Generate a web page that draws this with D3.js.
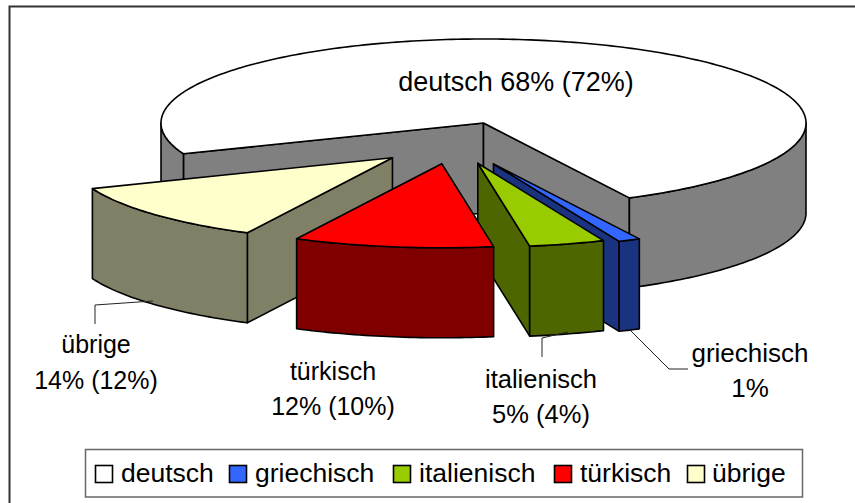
<!DOCTYPE html>
<html>
<head>
<meta charset="utf-8">
<script src="https://cdn.jsdelivr.net/npm/d3@7"></script>
<style>
html,body{margin:0;padding:0;background:#fff}
svg{display:block}
text{font-family:"Liberation Sans",Arial,sans-serif;fill:#000}
</style>
</head>
<body>
<svg id="c" width="855" height="503"></svg>
<script>
// ---- data ----
const categories = ["deutsch","griechisch","italienisch","türkisch","übrige"];
const sliceValues = [73.5,1.1,3.8,10,11.6];
const explosion = [0,1.1,1,1,1];
const topColors = ["#FFFFFF","#3366FF","#99CC00","#FF0000","#FFFFCC"];
const sideColors = ["#808080","#1A3380","#4D6600","#800000","#808066"];
const labelLines = [
  ["deutsch 68% (72%)"],
  ["griechisch","1%"],
  ["italienisch","5% (4%)"],
  ["türkisch","12% (10%)"],
  ["übrige","14% (12%)"]
];
const drawOrder = [0,4,1,2,3];

// ---- layout ----
const W=855,H=503, cx=483.5, cy=123, rx=322.5, ry=84, depth=90;
const labelAnchors = [
  {x:516,y:91,dy:0,fs:27},
  {x:750,y:362,dy:35,fs:26},
  {x:541,y:388,dy:35,fs:25.5},
  {x:333,y:380,dy:35,fs:25},
  {x:96,y:353,dy:36,fs:25}
];
const leaders = [null,
  [[629,329],[669,369],[688,369]],
  [[568,332],[542,338],[542,357]],
  null,
  [[153,301],[95,305],[95,324]]
];
const legendFS=26.5;
const legendSwatchX=[95,229,393,554,687];
const legendTextX=[121,255,419,580,712];

const svg=d3.select("#c");
const deg=Math.PI/180;
const pie=d3.pie().sort(null).value(d=>d)
  .startAngle(248.5*deg).endAngle((248.5+360)*deg);
const arcs=pie(sliceValues);
const line=d3.line();
const lx=d3.scaleLinear().domain([-1,1]).range([-rx,rx]);
const ly=d3.scaleLinear().domain([-1,1]).range([-ry,ry]);

function offset(i,a){
  // explosion in the picture plane
  const k=explosion[i];
  if(!k) return [cx,cy];
  return [cx+84*k*Math.sin(a)-29, cy-19*k*Math.cos(a)+22];
}
function arcPts(c,a0,a1,z){
  const n=Math.max(2,Math.ceil((a1-a0)/deg));
  return d3.range(n+1).map(k=>{
    const a=a0+(a1-a0)*k/n;
    return [c[0]+lx(Math.sin(a)), c[1]+ly(-Math.cos(a))+z];
  });
}
const outline={stroke:"#000","stroke-width":1.6,"stroke-linejoin":"round"};
function poly(g,pts,fill){
  const p=g.append("path").attr("d",line(pts)+"Z").attr("fill",fill);
  Object.entries(outline).forEach(([k,v])=>p.attr(k,v));
}

const gPie=svg.append("g");
drawOrder.forEach(i=>{
  const d=arcs[i], a0=d.startAngle, a1=d.endAngle;
  const c=offset(i,(a0+a1)/2);
  const g=gPie.append("g").attr("class","slice").datum(categories[i]);
  const side=sideColors[i];
  // radial faces
  if(Math.sin(a0)<0){
    const e=arcPts(c,a0,a0,0)[0];
    poly(g,[c,e,[e[0],e[1]+depth],[c[0],c[1]+depth]],side);
  }
  if(Math.sin(a1)>0){
    const e=arcPts(c,a1,a1,0)[0];
    poly(g,[c,e,[e[0],e[1]+depth],[c[0],c[1]+depth]],side);
  }
  // outer wall: front half only (angles 90..270, modulo turn)
  [[Math.PI/2,1.5*Math.PI],[2.5*Math.PI,3.5*Math.PI]].forEach(([f0,f1])=>{
    const s=Math.max(a0,f0), t=Math.min(a1,f1);
    if(t>s){
      const up=arcPts(c,s,t,0), dn=arcPts(c,s,t,depth).reverse();
      poly(g,up.concat(dn),side);
    }
  });
  // top face
  poly(g,[c].concat(arcPts(c,a0,a1,0)),topColors[i]);
});

// frame: left and top edges only
svg.append("path").attr("d",d3.line()([[9.5,503],[9.5,6.5],[855,6.5]]))
  .attr("fill","none").attr("stroke","#333").attr("stroke-width",2);

// leader lines
leaders.forEach(l=>{ if(l) svg.append("path").attr("d",line(l)).attr("fill","none")
  .attr("stroke","#222").attr("stroke-width",1); });

// labels
labelLines.forEach((ls,i)=>{
  const a=labelAnchors[i];
  ls.forEach((t,k)=>svg.append("text").attr("x",a.x).attr("y",a.y+k*a.dy)
    .attr("text-anchor","middle").attr("font-size",a.fs).text(t));
});

// legend
svg.append("rect").attr("x",85.5).attr("y",449.5).attr("width",717).attr("height",47.5)
  .attr("fill","#fff").attr("stroke","#666").attr("stroke-width",1.5);
categories.forEach((n,i)=>{
  svg.append("rect").attr("x",legendSwatchX[i]+.5).attr("y",465.5).attr("width",17).attr("height",17)
    .attr("fill",topColors[i]).attr("stroke","#000").attr("stroke-width",1.6);
  svg.append("text").attr("x",legendTextX[i]).attr("y",482).attr("font-size",legendFS).text(n);
});
</script>
</body>
</html>
